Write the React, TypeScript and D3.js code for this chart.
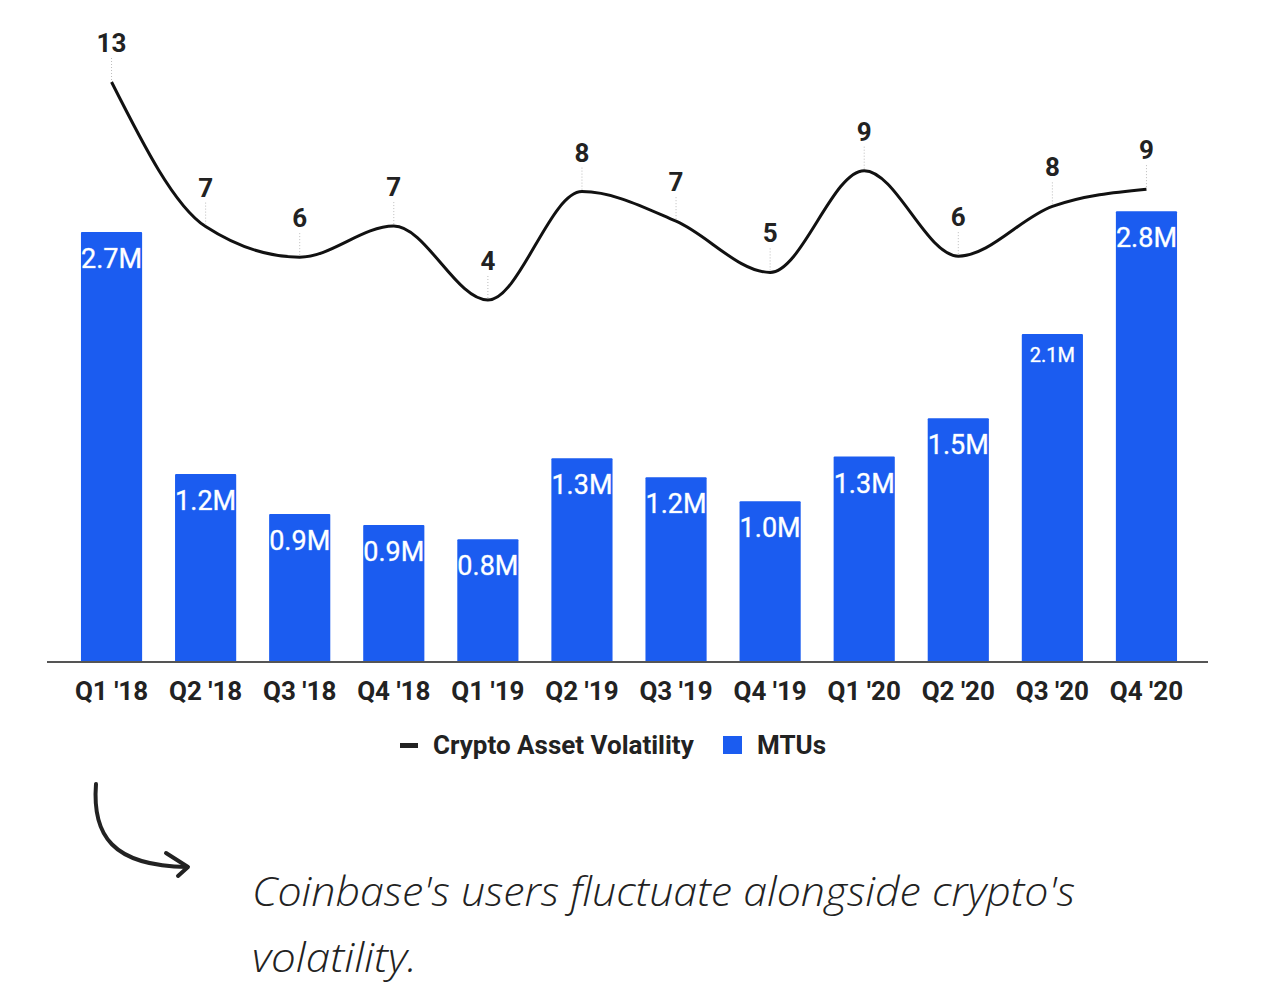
import React from 'react'
import * as d3 from 'd3'

const QUARTERS = ["Q1 '18", "Q2 '18", "Q3 '18", "Q4 '18", "Q1 '19", "Q2 '19", "Q3 '19", "Q4 '19", "Q1 '20", "Q2 '20", "Q3 '20", "Q4 '20"]
// monthly transacting users, millions
const MTUS = [2.7, 1.18, 0.93, 0.86, 0.77, 1.28, 1.16, 1.01, 1.29, 1.53, 2.06, 2.83]
// crypto asset volatility
const VOLATILITY = [12.85, 6.98, 5.74, 7.0, 4.0, 8.4, 7.2, 5.12, 9.25, 5.78, 7.8, 8.5]

const BLUE = '#1b5cf0'
const INK = '#222'
const FONT = 'Roboto, sans-serif'

const W = 1262
const H = 1006

export default function App() {
  const x = d3.scaleBand<string>().domain(QUARTERS).range([64.5, 1193.5]).paddingInner(0.35).paddingOuter(0.175)
  const yBar = d3.scaleLinear().domain([0, 2.7]).range([662, 232])
  const yVol = d3.scaleLinear().domain([4, 12.85]).range([300, 82])
  const cx = (q: string) => (x(q) ?? 0) + x.bandwidth() / 2

  const volData = QUARTERS.map((q, i) => ({ q, v: VOLATILITY[i] }))
  const line = d3.line<{ q: string; v: number }>()
    .x(d => cx(d.q))
    .y(d => yVol(d.v))
    .curve(d3.curveMonotoneX)

  return (
    <svg width={W} height={H} style={{ position: 'absolute', left: 0, top: 0, background: '#fff' }}>
      {/* bars */}
      {QUARTERS.map((q, i) => {
        const top = yBar(MTUS[i])
        const small = MTUS[i] > 2 && MTUS[i] < 2.5
        return (
          <g key={q}>
            <rect x={x(q)} y={top} width={x.bandwidth()} height={yBar(0) - top} fill={BLUE} rx={1} />
            <text x={cx(q)} y={top + (small ? 28 : 36)} textAnchor="middle" fill="#fff"
              fontFamily={FONT} fontSize={small ? 20 : 27} stroke="#9fc0ff" strokeWidth={0.6} paintOrder="stroke">
              {d3.format('.1f')(MTUS[i]) + 'M'}
            </text>
          </g>
        )
      })}

      {/* baseline */}
      <line x1={47} x2={1208} y1={662} y2={662} stroke="#555" strokeWidth={2} />

      {/* x labels */}
      {QUARTERS.map(q => (
        <text key={q} x={cx(q)} y={700} textAnchor="middle" fontFamily={FONT} fontWeight={700} fontSize={26} fill={INK}>
          {q}
        </text>
      ))}

      {/* volatility line */}
      <path d={line(volData) ?? ''} fill="none" stroke="#111" strokeWidth={3} />
      {volData.map(d => (
        <g key={d.q}>
          <line x1={cx(d.q)} x2={cx(d.q)} y1={yVol(d.v) - 24} y2={yVol(d.v) - 2} stroke="#bbb" strokeWidth={1} strokeDasharray="1 2" />
          <text x={cx(d.q)} y={yVol(d.v) - 30} textAnchor="middle" fontFamily={FONT} fontWeight={700} fontSize={26} fill={INK}>
            {Math.round(d.v)}
          </text>
        </g>
      ))}

      {/* legend */}
      <rect x={400} y={743} width={18} height={5} fill={INK} />
      <text x={433} y={754} fontFamily={FONT} fontWeight={700} fontSize={26} fill={INK}>Crypto Asset Volatility</text>
      <rect x={723} y={736} width={19} height={18} fill={BLUE} />
      <text x={757} y={754} fontFamily={FONT} fontWeight={700} fontSize={26} fill={INK}>MTUs</text>

      {/* annotation */}
      <path d="M96,784 C92,835 112,866 187,867" fill="none" stroke={INK} strokeWidth={4} strokeLinecap="round" />
      <path d="M166,853 L188,867 L178,876" fill="none" stroke={INK} strokeWidth={4} strokeLinecap="round" strokeLinejoin="round" />
      <text x={252} y={906} fontFamily="'Open Sans', sans-serif" fontStyle="italic" fontWeight={300} fontSize={40} fill={INK}
        textLength={823} lengthAdjust="spacingAndGlyphs">
        Coinbase's users fluctuate alongside crypto's
      </text>
      <text x={252} y={972} fontFamily="'Open Sans', sans-serif" fontStyle="italic" fontWeight={300} fontSize={40} fill={INK}
        textLength={165} lengthAdjust="spacingAndGlyphs">
        volatility.
      </text>
    </svg>
  )
}
